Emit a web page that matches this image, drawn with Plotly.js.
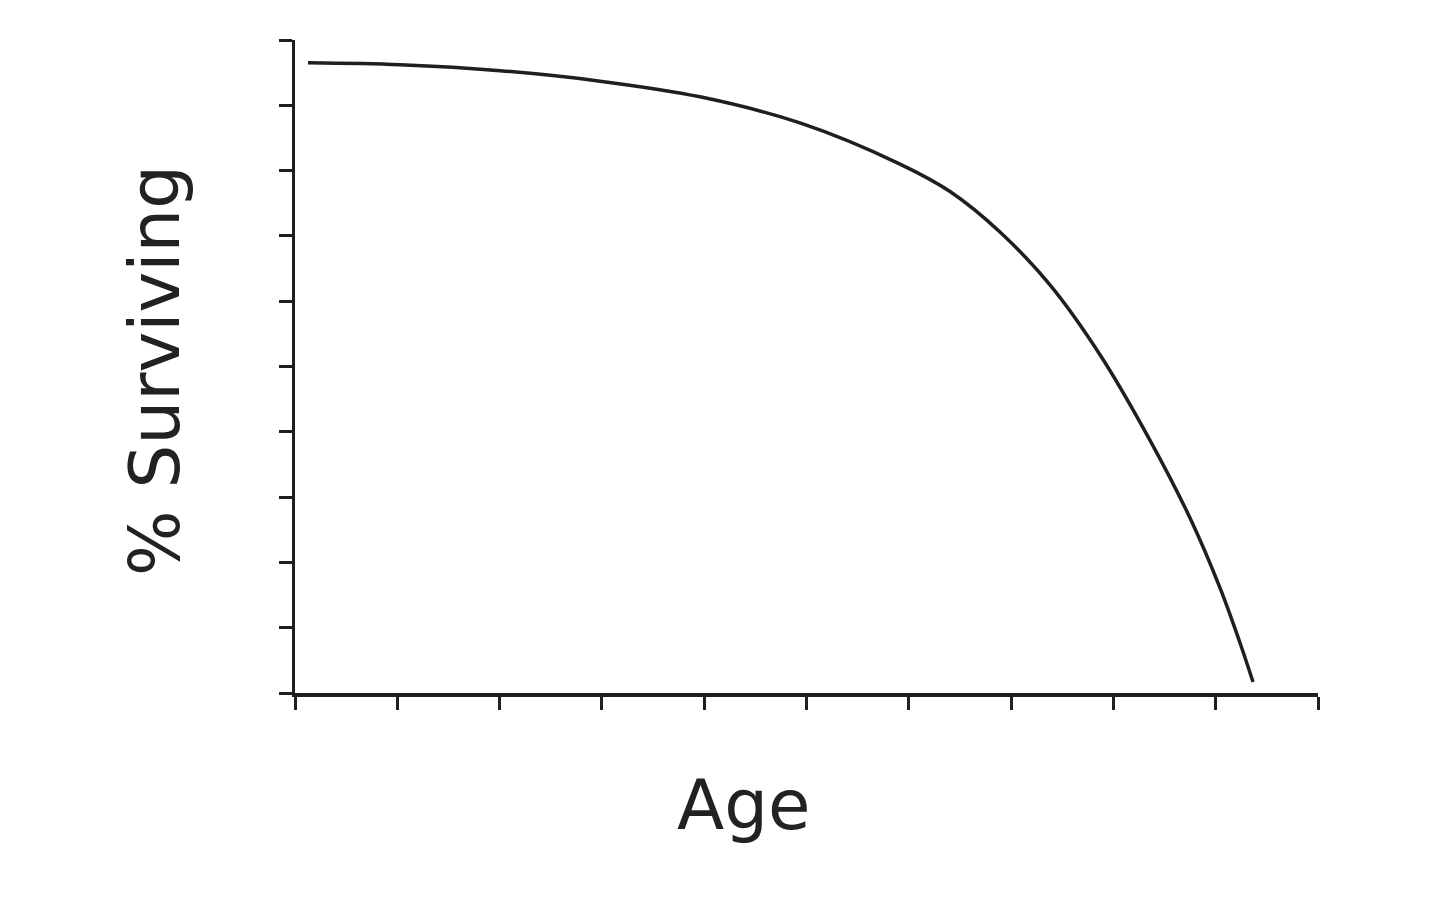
<!DOCTYPE html>
<html>
<head>
<meta charset="utf-8">
<script src="https://cdn.plot.ly/plotly-3.0.1.min.js"></script>
<style>html,body{margin:0;padding:0;background:#fff;}#chart{width:1440px;height:915px;}</style>
</head>
<body>
<div id="chart"></div>
<script>
// Age (0-10 scale) and % surviving
const age = [0.127, 1.026, 2.004, 2.981, 3.959, 4.936, 5.914, 6.403, 6.891, 7.380, 7.869, 8.358, 8.749, 9.042, 9.238, 9.365];
const surviving = [96.5, 96.2, 95.3, 93.7, 91.3, 87.3, 81.0, 76.8, 70.6, 62.5, 51.8, 38.7, 26.8, 16.1, 7.66, 1.68];
const xTicks = [0, 1, 2, 3, 4, 5, 6, 7, 8, 9, 10];
const yTicks = [0, 10, 20, 30, 40, 50, 60, 70, 80, 90, 100];
const xTitle = 'Age';
const yTitle = '% Surviving';

const ink = '#1f1f1f';
const trace = {
  x: age, y: surviving, type: 'scatter', mode: 'lines',
  line: {color: ink, width: 3.5, shape: 'spline', smoothing: 1},
  hoverinfo: 'skip'
};
const titleFont = {family: '"DejaVu Sans", sans-serif', size: 69, color: '#222'};
const layout = {
  width: 1440, height: 915,
  margin: {l: 295, r: 122, t: 40, b: 222},
  paper_bgcolor: '#fff', plot_bgcolor: '#fff',
  showlegend: false,
  xaxis: {
    range: [0, 10], tickmode: 'array', tickvals: xTicks, showticklabels: false,
    ticks: 'outside', ticklen: 13, tickwidth: 3, tickcolor: ink,
    showline: true, linecolor: ink, linewidth: 3.5, showgrid: false, zeroline: false
  },
  yaxis: {
    range: [0, 100], tickmode: 'array', tickvals: yTicks, showticklabels: false,
    ticks: 'outside', ticklen: 13, tickwidth: 3, tickcolor: ink,
    showline: true, linecolor: ink, linewidth: 3.5, showgrid: false, zeroline: false
  },
  annotations: [
    {text: xTitle, xref: 'paper', yref: 'paper', x: 0.438, y: -0.1715,
     xanchor: 'center', yanchor: 'middle', showarrow: false, font: titleFont},
    {text: yTitle, xref: 'paper', yref: 'paper', x: -0.137, y: 0.4946, textangle: -90,
     xanchor: 'center', yanchor: 'middle', showarrow: false, font: titleFont}
  ]
};
Plotly.newPlot('chart', [trace], layout, {displayModeBar: false, staticPlot: true});
</script>
</body>
</html>
